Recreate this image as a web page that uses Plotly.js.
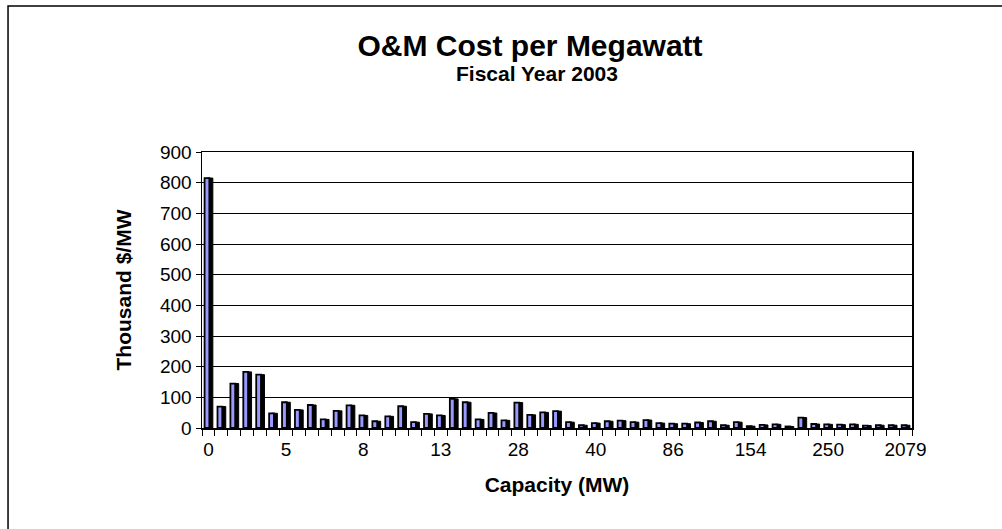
<!DOCTYPE html>
<html>
<head>
<meta charset="utf-8">
<script src="https://cdn.plot.ly/plotly-3.0.1.min.js"></script>
<style>
  html, body { margin: 0; padding: 0; background: #fff; }
  #chart { width: 1002px; height: 529px; }
</style>
</head>
<body>
<div id="chart"></div>
<script>
// O&M cost per megawatt (thousand $/MW), one bar per plant, ordered by capacity
const costPerMW = [
  815, 70, 145, 183, 174, 48, 84, 59, 75, 28,
  56, 74, 41, 22, 38, 71, 19, 46, 41, 95,
  84, 28, 49, 25, 83, 43, 51, 55, 19, 9,
  16, 22, 24, 19, 26, 16, 14, 14, 18, 22,
  9, 19, 6, 10, 12, 5, 34, 13, 12, 11,
  12, 8, 9, 9, 9
];
// Capacity (MW) labels shown on every sixth plant
const labelEvery = 6;
const capacityTickLabels = ['0', '5', '8', '13', '28', '40', '86', '154', '250', '2079'];

const plantIndex = costPerMW.map((_, i) => i);
const tickPositions = capacityTickLabels.map((_, k) => k * labelEvery);

const FONT = 'Liberation Sans, Arial, sans-serif';

const shadowTrace = {
  type: 'bar', x: plantIndex, y: costPerMW,
  width: 0.42, offset: -0.08,
  marker: { color: '#000000', line: { color: '#000000', width: 1 } },
  hoverinfo: 'skip', showlegend: false
};
const barTrace = {
  type: 'bar', x: plantIndex, y: costPerMW,
  width: 0.37, offset: -0.3,
  marker: { color: '#9999FF', line: { color: '#000000', width: 1.8 } },
  name: 'O&M Cost per MW', showlegend: false
};

const layout = {
  width: 1002, height: 529,
  margin: { l: 202, r: 90, t: 152, b: 101 },
  paper_bgcolor: '#ffffff', plot_bgcolor: '#ffffff',
  font: { family: FONT, color: '#000000', size: 19 },
  barmode: 'overlay',
  hovermode: false,
  title: {
    text: '<b>O&M Cost per Megawatt</b>',
    font: { family: FONT, size: 30, color: '#000000' },
    xref: 'container', yref: 'container',
    x: 0.529, xanchor: 'center',
    y: 0.914, yanchor: 'middle'
  },
  annotations: [{
    text: '<b>Fiscal Year 2003</b>',
    xref: 'paper', yref: 'paper',
    x: 0.4718, y: 1.2844, xanchor: 'center', yanchor: 'middle',
    showarrow: false,
    font: { family: FONT, size: 21, color: '#000000' }
  }],
  xaxis: {
    type: 'linear',
    range: [-0.5, costPerMW.length - 0.5],
    tickmode: 'array', tickvals: tickPositions, ticktext: capacityTickLabels,
    ticks: '', ticklabelstandoff: 4,
    tickfont: { family: FONT, size: 19, color: '#000' },
    minor: { tickmode: 'linear', tick0: -0.5, dtick: 1, ticks: 'outside', ticklen: 6, tickcolor: '#000', tickwidth: 1, showgrid: false },
    showgrid: false, zeroline: false,
    showline: true, linecolor: '#000', linewidth: 1.5, mirror: true,
    title: { text: '<b>Capacity (MW)</b>', font: { family: FONT, size: 21, color: '#000' }, standoff: 18 },
    automargin: false, fixedrange: true
  },
  yaxis: {
    range: [0, 900], dtick: 100, tick0: 0,
    ticks: 'outside', ticklen: 5, tickcolor: '#000', tickwidth: 1,
    tickfont: { family: FONT, size: 19, color: '#000' },
    showgrid: true, gridcolor: '#000000', gridwidth: 1,
    zeroline: false,
    showline: true, linecolor: '#000', linewidth: 1.5, mirror: true,
    title: { text: '<b>Thousand $/MW</b>', font: { family: FONT, size: 21, color: '#000' }, standoff: 22 },
    automargin: false, fixedrange: true
  },
  shapes: [{
    type: 'rect', xref: 'paper', yref: 'paper',
    x0: -0.2732, x1: 1.5, y0: -1, y1: 1.529,
    line: { color: '#000000', width: 1.5 }, fillcolor: 'rgba(0,0,0,0)', layer: 'below'
  }]
};

Plotly.newPlot('chart', [shadowTrace, barTrace], layout, { displayModeBar: false, staticPlot: true });
</script>
</body>
</html>
